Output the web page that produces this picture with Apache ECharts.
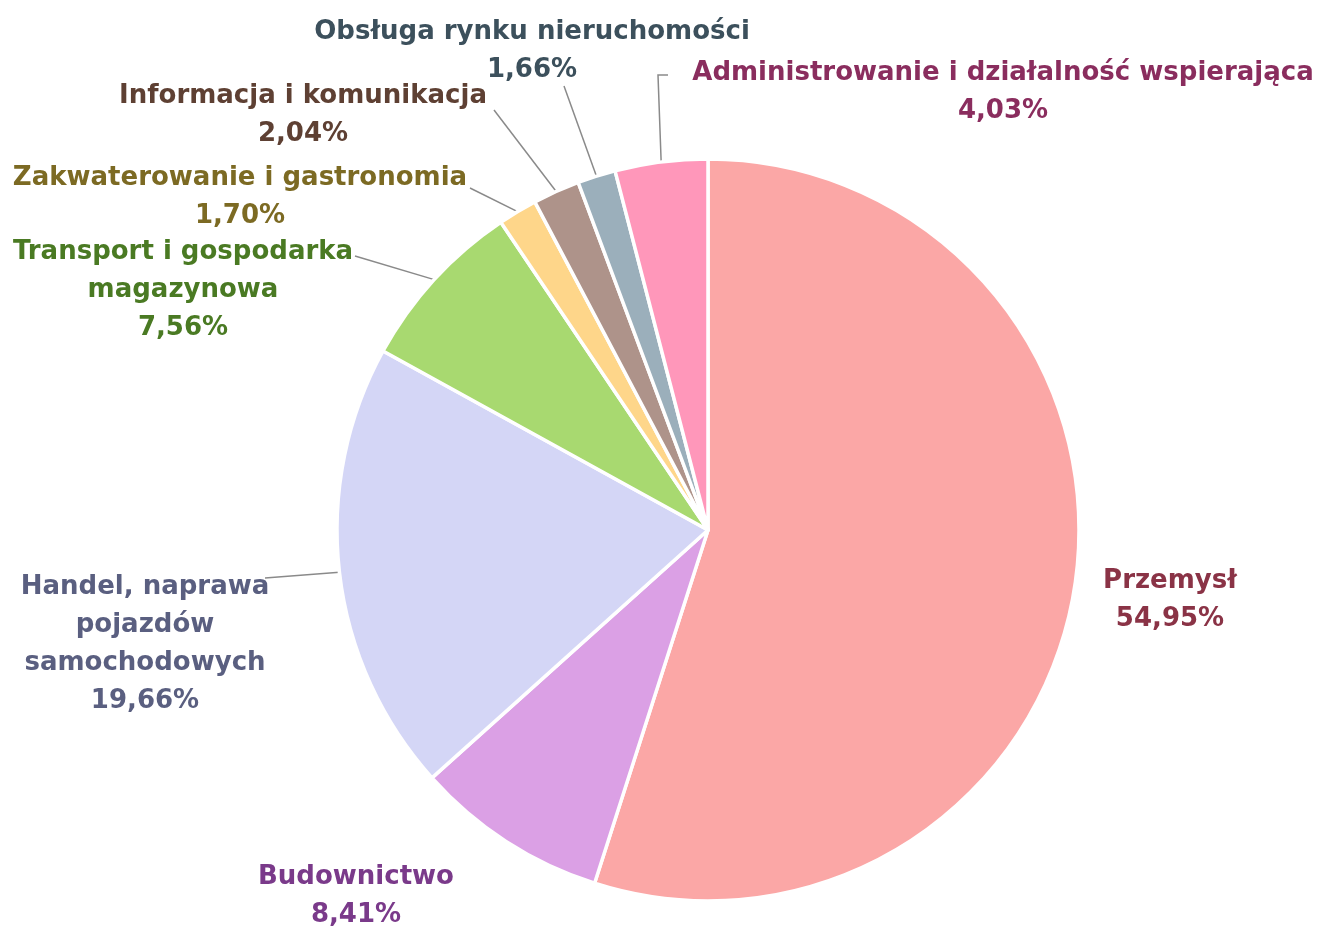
<!DOCTYPE html>
<html>
<head>
<meta charset="utf-8">
<script src="https://cdn.jsdelivr.net/npm/echarts@6/dist/echarts.min.js"></script>
<style>
  html, body { margin: 0; padding: 0; background: #fff; }
  #chart { width: 1317px; height: 929px; }
</style>
</head>
<body>
<div id="chart"></div>
<script>
const categories = [
  'Przemysł',
  'Budownictwo',
  'Handel, naprawa\npojazdów\nsamochodowych',
  'Transport i gospodarka\nmagazynowa',
  'Zakwaterowanie i gastronomia',
  'Informacja i komunikacja',
  'Obsługa rynku nieruchomości',
  'Administrowanie i działalność wspierająca'
]
const shares = [54.95, 8.41, 19.66, 7.56, 1.70, 2.04, 1.66, 4.03]
const sliceColors = ['#fba7a6', '#dba0e5', '#d4d6f6', '#a8d970', '#fed68a', '#ae938a', '#9bafbb', '#ff97ba']
const textColors = ['#8a3346', '#7a3a8a', '#5a5f80', '#4a7a23', '#7c6a23', '#5e4033', '#3c505c', '#8a2d5e']

// label centres and leader-line ends (layout only)
const labelPos = [
  [1170, 600], [356, 896], [145, 644], [183, 290],
  [240, 197], [303, 115], [532, 51], [1003, 92]
]
const lineEnds = [
  null, null, [[265, 578]], [[355, 256]],
  [[470, 188]], [[494, 110]], [[564, 86]], [[658, 75], [668, 75]]
]

const chart = echarts.init(document.getElementById('chart'), null, { renderer: 'canvas' })

const option = {
  animation: false,
  series: [
    {
      type: 'pie',
      center: [708, 530],
      radius: 371,
      startAngle: 90,
      clockwise: true,
      itemStyle: {
        borderColor: '#fff',
        borderWidth: 3.5
      },
      label: {
        show: true,
        fontFamily: 'DejaVu Sans',
        fontSize: 26,
        fontWeight: 600,
        lineHeight: 38,
        align: 'center',
        overflow: 'none'
      },
      labelLine: {
        show: true,
        length: 30,
        length2: 10,
        lineStyle: { color: '#8a8a8a', width: 1.5 }
      },
      labelLayout: (params) => {
        const i = params.dataIndex
        const p = labelPos[i]
        const res = { x: p[0], y: p[1], align: 'center', verticalAlign: 'middle' }
        if (lineEnds[i] && params.labelLinePoints) {
          res.labelLinePoints = [params.labelLinePoints[0]].concat(lineEnds[i])
        }
        return res
      },
      data: categories.map((name, i) => ({
        name: name,
        value: shares[i],
        itemStyle: { color: sliceColors[i] },
        label: {
          color: textColors[i],
          formatter: name + '\n' + shares[i].toFixed(2).replace('.', ',') + '%'
        },
        labelLine: { show: i > 1 }
      }))
    }
  ]
}

chart.setOption(option)
</script>
</body>
</html>
